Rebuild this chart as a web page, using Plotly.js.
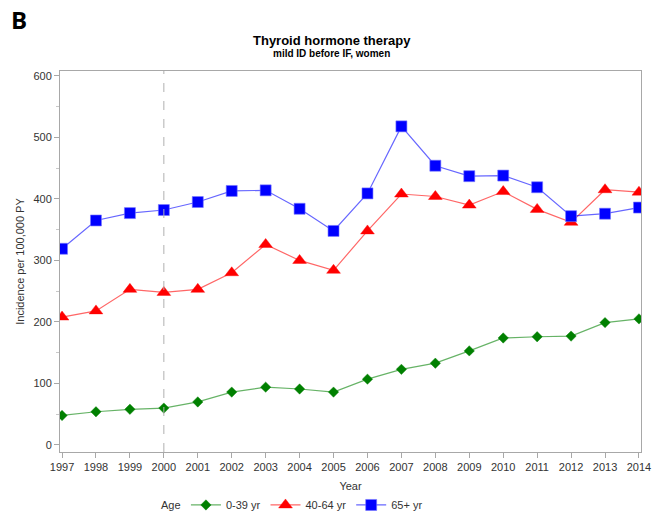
<!DOCTYPE html>
<html>
<head>
<meta charset="utf-8">
<script src="https://cdn.plot.ly/plotly-3.0.1.min.js"></script>
<style>html,body{margin:0;padding:0;background:#fff;}#chart{width:660px;height:515px;}</style>
</head>
<body>
<div id="chart"></div>
<script>
const years = [1997,1998,1999,2000,2001,2002,2003,2004,2005,2006,2007,2008,2009,2010,2011,2012,2013,2014];
const age0to39 = [48,54,58,60,70,86,94,91,86,107,123,133,153,174,176,177,199,205];
const age40to64 = [208,218,253,248,253,280,326,300,284,348,408,404,390,412,383,362,415,411];
const age65plus = [319,365,377,382,395,413,414,384,348,409,518,454,437,438,419,372,376,386];
const seriesNames = ['0-39 yr','40-64 yr','65+ yr'];
const legendTitle = 'Age';
const refYear = 2000;

const fnt = '"Liberation Sans Narrow", "Liberation Sans", Arial, sans-serif';

const traces = [
  {x: years, y: age0to39, name: seriesNames[0], type:'scatter', mode:'lines+markers',
   line:{color:'rgba(0,128,0,0.6)', width:1.2},
   marker:{symbol:'diamond', size:8, color:'#008000', line:{color:'rgba(0,128,0,0.4)', width:1}}},
  {x: years, y: age40to64, name: seriesNames[1], type:'scatter', mode:'lines+markers',
   line:{color:'rgba(255,0,0,0.6)', width:1.2},
   marker:{symbol:'triangle-up', size:12, color:'#ff0000', line:{color:'rgba(255,0,0,0.4)', width:1}}},
  {x: years, y: age65plus, name: seriesNames[2], type:'scatter', mode:'lines+markers',
   line:{color:'rgba(0,0,255,0.6)', width:1.2},
   marker:{symbol:'square', size:11, color:'#0000ff', line:{color:'rgba(120,120,255,0.6)', width:1}}}
];

const layout = {
  width:660, height:515,
  margin:{l:60, r:19, t:71, b:63, autoexpand:false},
  paper_bgcolor:'#fff', plot_bgcolor:'#fff',
  font:{family:fnt, size:11, color:'#333'},
  showlegend:true,
  legend:{orientation:'h', x:0.425, xanchor:'center', y:-0.139, yanchor:'middle',
    font:{family:fnt, size:11, color:'#333'}, bgcolor:'rgba(0,0,0,0)'},
  xaxis:{range:[1996.94, 2014.06], tickmode:'array', tickvals:years, ticktext:years.map(String),
    showgrid:false, zeroline:false, showline:true, linecolor:'#a8a8a8', linewidth:1, mirror:true,
    ticks:'outside', ticklen:5, tickcolor:'#a8a8a8',
    tickfont:{family:fnt, size:11, color:'#333'},
    title:{text:'Year', font:{family:fnt, size:11, color:'#333'}, standoff:10}},
  yaxis:{range:[-11.4, 608], tickvals:[0,100,200,300,400,500,600],
    showgrid:false, zeroline:false, showline:true, linecolor:'#a8a8a8', linewidth:1, mirror:true,
    ticks:'outside', ticklen:5, tickcolor:'#a8a8a8',
    minor:{tickvals:[50,150,250,350,450,550], ticks:'outside', ticklen:3, tickcolor:'#c8c8c8', showgrid:false},
    tickfont:{family:fnt, size:11, color:'#333'},
    title:{text:'Incidence per 100,000 PY', font:{family:fnt, size:11, color:'#333'}, standoff:6}},
  shapes:[{type:'line', xref:'x', yref:'paper', x0:refYear, x1:refYear, y0:0, y1:1,
    line:{color:'#b0b0b0', width:1, dash:'dash'}}],
  annotations:[
    {text:'<b>B</b>', xref:'paper', yref:'paper', x:-0.088, y:1.136, xanchor:'left', yanchor:'middle',
     showarrow:false, font:{family:'"Open Sans", "Liberation Sans", Arial, sans-serif', size:24, color:'#000'}},
    {text:'<b>Thyroid hormone therapy</b>', xref:'paper', yref:'paper', x:0.468, y:1.079, xanchor:'center', yanchor:'middle',
     showarrow:false, font:{family:fnt, size:13, color:'#000'}},
    {text:'<b>mild ID before IF, women</b>', xref:'paper', yref:'paper', x:0.468, y:1.045, xanchor:'center', yanchor:'middle',
     showarrow:false, font:{family:fnt, size:10, color:'#000'}},
    {text:legendTitle, xref:'paper', yref:'paper', x:(171-60)/581, y:-0.139, xanchor:'center', yanchor:'middle',
     showarrow:false, font:{family:fnt, size:11, color:'#333'}}
  ]
};

Plotly.newPlot('chart', traces, layout, {displayModeBar:false, staticPlot:true});
</script>
</body>
</html>
